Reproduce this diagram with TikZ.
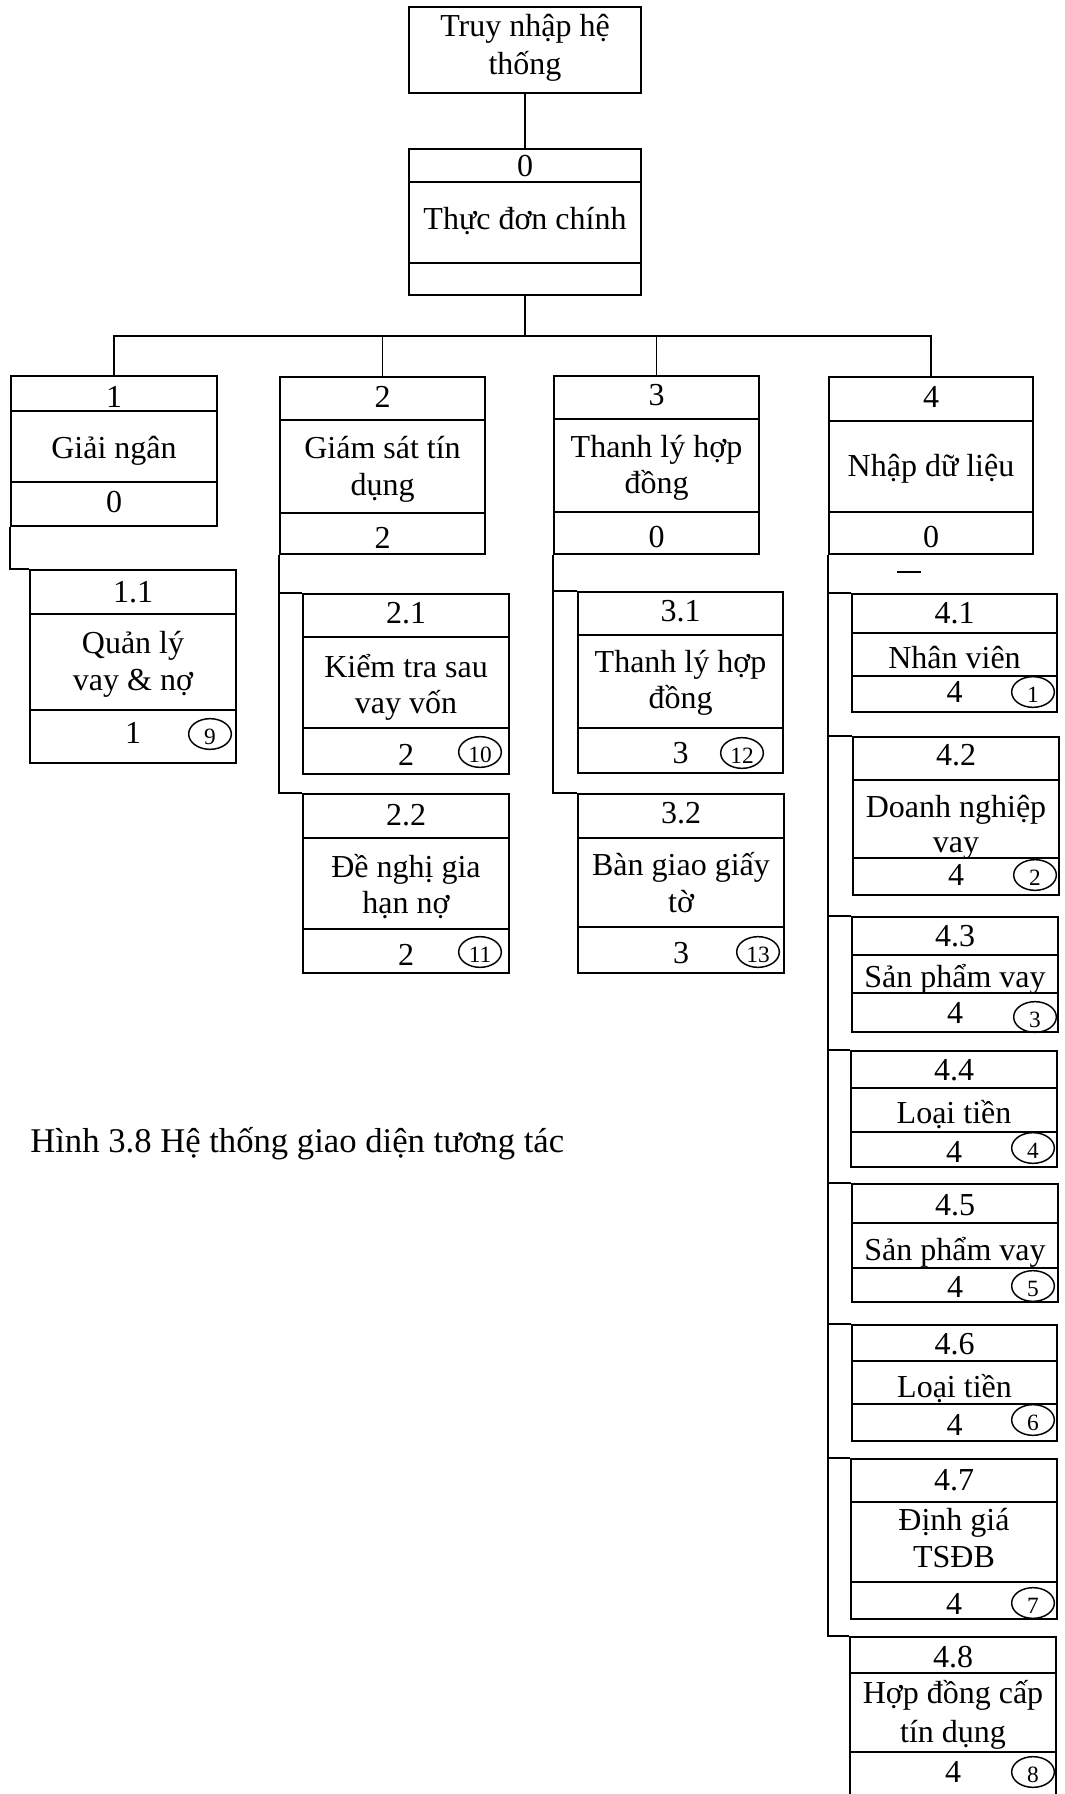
\documentclass[tikz,border=0pt]{standalone}
\usepackage{fontspec}
\setmainfont{Liberation Serif}
\usetikzlibrary{shapes.geometric}
\newcommand\ubox[7]{%
  \node[box, minimum width={(#4-#2)*0.75pt}, minimum height={(#5-#3)*0.75pt}] (#1) at ({(#2+#4)/2},{(#3+#5)/2}) {};
  \draw[lnk] (#2,#6) -- (#4,#6);
  \draw[lnk] (#2,#7) -- (#4,#7);
  \pgfmathsetmacro\cx{(#2+#4)/2}}
\newcommand\ucirc[4]{%
  \node[circ] (#1) at (#2,#3) {};
  \node[cnum, anchor=base] at (#2,{#3+10}) {#4};}
\begin{document}
\begin{tikzpicture}[x=0.75pt,y=-0.75pt,
  box/.style={draw, line width=1.45pt, rectangle, inner sep=0pt},
  lnk/.style={line width=1.45pt},
  txt/.style={anchor=base, inner sep=0pt, font=\fontsize{24}{28}\selectfont},
  circ/.style={draw, ellipse, line width=1.1pt, minimum width=32pt, minimum height=23pt, inner sep=0pt},
  cnum/.style={inner sep=0pt, font=\fontsize{17.5}{19}\selectfont}]
\useasboundingbox (0,0) rectangle (1064,1794);
\clip (0,0) rectangle (1064,1794);
\fill[white] (0,0) rectangle (1064,1794);

% top box
\node[box, minimum width={232*0.75pt}, minimum height={86*0.75pt}] (top) at (525,50) {};
\node[txt] at (525,37) {Truy nhập hệ};
\node[txt] at (525,75) {thống};

% main menu
\ubox{m0}{409}{149}{641}{295}{182}{263}
\node[txt] at (\cx,177) {0};
\node[txt] at (\cx,230) {Thực đơn chính};

% level 1
\ubox{b1}{11}{376}{217}{526}{411}{482}
\node[txt] at (\cx,407) {1};
\node[txt] at (\cx,458) {Giải ngân};
\node[txt] at (\cx,512) {0};

\ubox{b2}{280}{377}{485}{554}{420}{513}
\node[txt] at (\cx,407) {2};
\node[txt] at (\cx,458) {Giám sát tín};
\node[txt] at (\cx,495) {dụng};
\node[txt] at (\cx,548) {2};

\ubox{b3}{554}{376}{759}{554}{419}{512}
\node[txt] at (\cx,405) {3};
\node[txt] at (\cx,457) {Thanh lý hợp};
\node[txt] at (\cx,493) {đồng};
\node[txt] at (\cx,547) {0};

\ubox{b4}{829}{377}{1033}{554}{421}{512}
\node[txt] at (\cx,407) {4};
\node[txt] at (\cx,476) {Nhập dữ liệu};
\node[txt] at (\cx,547) {0};

% level 2
\ubox{b11}{30}{570}{236}{763}{614}{710}
\node[txt] at (\cx,602) {1.1};
\node[txt] at (\cx,653) {Quản lý};
\node[txt] at (\cx,690) {vay \& nợ};
\node[txt] at (\cx,743) {1};
\ucirc{c9}{210}{734}{9}

\ubox{b21}{303}{594}{509}{774}{637}{728}
\node[txt] at (\cx,623) {2.1};
\node[txt] at (\cx,677) {Kiểm tra sau};
\node[txt] at (\cx,713) {vay vốn};
\node[txt] at (\cx,765) {2};
\ucirc{c10}{480}{752}{10}

\ubox{b22}{303}{794}{509}{973}{838}{929}
\node[txt] at (\cx,825) {2.2};
\node[txt] at (\cx,877) {Đề nghị gia};
\node[txt] at (\cx,913) {hạn nợ};
\node[txt] at (\cx,965) {2};
\ucirc{c11}{480}{952}{11}

\ubox{b31}{578}{592}{783}{773}{635}{728}
\node[txt] at (\cx,621) {3.1};
\node[txt] at (\cx,672) {Thanh lý hợp};
\node[txt] at (\cx,708) {đồng};
\node[txt] at (\cx,763) {3};
\ucirc{c12}{742}{753}{12}

\ubox{b32}{578}{794}{784}{973}{838}{927}
\node[txt] at (\cx,823) {3.2};
\node[txt] at (\cx,875) {Bàn giao giấy};
\node[txt] at (\cx,912) {tờ};
\node[txt] at (\cx,963) {3};
\ucirc{c13}{758}{952}{13}

\ubox{b41}{852}{594}{1057}{712}{633}{676}
\node[txt] at (\cx,623) {4.1};
\node[txt] at (\cx,668) {Nhân viên};
\node[txt] at (\cx,702) {4};
\ucirc{c1}{1033}{692}{1}

\ubox{b42}{853}{737}{1059}{895}{780}{858}
\node[txt] at (\cx,765) {4.2};
\node[txt] at (\cx,817) {Doanh nghiệp};
\node[txt] at (\cx,852) {vay};
\node[txt] at (\cx,885) {4};
\ucirc{c2}{1035}{875}{2}

\ubox{b43}{852}{917}{1058}{1032}{955}{993}
\node[txt] at (\cx,946) {4.3};
\node[txt] at (\cx,987) {Sản phẩm vay};
\node[txt] at (\cx,1023) {4};
\ucirc{c3}{1035}{1017}{3}

\ubox{b44}{851}{1051}{1057}{1167}{1088}{1132}
\node[txt] at (\cx,1080) {4.4};
\node[txt] at (\cx,1123) {Loại tiền};
\node[txt] at (\cx,1162) {4};
\ucirc{c4}{1033}{1148}{4}

\ubox{b45}{852}{1184}{1058}{1302}{1223}{1268}
\node[txt] at (\cx,1215) {4.5};
\node[txt] at (\cx,1260) {Sản phẩm vay};
\node[txt] at (\cx,1297) {4};
\ucirc{c5}{1033}{1286}{5}

\ubox{b46}{852}{1325}{1057}{1441}{1361}{1404}
\node[txt] at (\cx,1354) {4.6};
\node[txt] at (\cx,1397) {Loại tiền};
\node[txt] at (\cx,1435) {4};
\ucirc{c6}{1033}{1420}{6}

\ubox{b47}{851}{1459}{1057}{1619}{1502}{1582}
\node[txt] at (\cx,1490) {4.7};
\node[txt] at (\cx,1530) {Định giá};
\node[txt] at (\cx,1567) {TSĐB};
\node[txt] at (\cx,1614) {4};
\ucirc{c7}{1033}{1603}{7}

\ubox{b48}{850}{1637}{1056}{1810}{1673}{1752}
\node[txt] at (\cx,1667) {4.8};
\node[txt] at (\cx,1703) {Hợp đồng cấp};
\node[txt] at (\cx,1742) {tín dụng};
\node[txt] at (\cx,1782) {4};
\ucirc{c8}{1033}{1772}{8}

% connectors
\coordinate (bus) at (525,336);
\draw[lnk] (top.south) -- (m0.north);
\draw[lnk] (m0.south) -- (bus);
\draw[lnk] (b1.north) -- (b1.north |- bus) -- (b4.north |- bus) -- (b4.north);
\draw[lnk] (b2.north) -- (b2.north |- bus);
\draw[lnk] (b3.north) -- (b3.north |- bus);

\draw[lnk] (b1.south west) |- (b11.north west);
\draw[lnk] (b2.south west) |- (b21.north west);
\draw[lnk] (b2.south west) |- (b22.north west);
\draw[lnk] (b3.south west) |- (b31.north west);
\draw[lnk] (b3.south west) |- (b32.north west);
\foreach \k in {1,...,8}{\draw[lnk] (b4.south west) |- (b4\k.north west);}

% small dash under box 4
\draw[lnk] (897,572) -- (921,572);

% caption
\node[anchor=base west, inner sep=0pt, font=\fontsize{26}{30}\selectfont] (cap) at (30,1152) {Hình 3.8 Hệ thống giao diện tương tác};
\end{tikzpicture}
\end{document}
